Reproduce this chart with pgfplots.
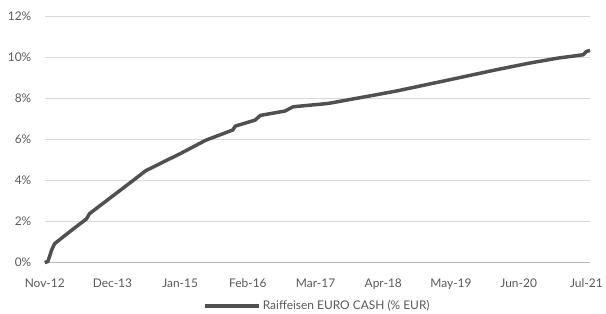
\documentclass[border=0pt]{standalone}
\usepackage{pgfplots}
\pgfplotsset{compat=1.18}
\usepackage{fontspec}
\setmainfont{Lato}
\definecolor{txt}{HTML}{595959}
\definecolor{grd}{HTML}{D9D9D9}
\definecolor{ln}{HTML}{505050}
\begin{document}
\begin{tikzpicture}
\begin{axis}[
  name=ax,
  scale only axis,
  width=548.3pt, height=248pt,
  xmin=0, xmax=104.7,
  ymin=0, ymax=12,
  axis line style={draw=none},
  ymajorgrids,
  grid style={grd, line width=0.8pt},
  xtick={0,13,26,39,52,65,78,91,104},
  xticklabels={Nov-12,Dec-13,Jan-15,Feb-16,Mar-17,Apr-18,May-19,Jun-20,Jul-21},
  ytick={0,2,4,6,8,10,12},
  yticklabels={0\%,2\%,4\%,6\%,8\%,10\%,12\%},
  major tick length=0pt,
  tick label style={font=\fontsize{12}{14}\selectfont, text=txt},
  xticklabel style={yshift=-13pt},
  yticklabel style={xshift=-10pt},
  legend style={at={(0.5,-0.175)}, anchor=center, draw=none, fill=none,
    font=\fontsize{12}{14}\selectfont, text=txt, inner sep=0pt},
  legend image code/.code={\draw[#1, line width=4pt] (0pt,0pt) -- (54pt,0pt);},
  clip=false,
]
\draw[grd!85!black, line width=1pt] (axis cs:0,0) -- (axis cs:104.7,0);
\addplot[ln, line width=3.5pt, line join=round] table {
0 0
0.6 0.05
1.0 0.35
1.3 0.6
1.9 0.92
3.2 1.18
5.4 1.62
8.0 2.12
8.6 2.38
16.9 3.98
19.4 4.47
23.2 4.95
25.8 5.27
30.9 5.95
35.6 6.40
36.1 6.45
36.6 6.64
40.4 6.93
41.4 7.16
46.1 7.37
47.7 7.58
54.4 7.74
64.0 8.18
67.8 8.36
77.3 8.87
86.9 9.39
93.2 9.71
98.6 9.95
103.4 10.11
104.0 10.27
104.7 10.32
};
\addlegendentry{Raiffeisen EURO CASH (\% EUR)}
\end{axis}
\path (ax.south west) ++(-45pt,-50pt) coordinate (bl);
\path (ax.north east) ++(12.7pt,16pt) coordinate (tr);
\path (bl) rectangle (tr);
\end{tikzpicture}
\end{document}
